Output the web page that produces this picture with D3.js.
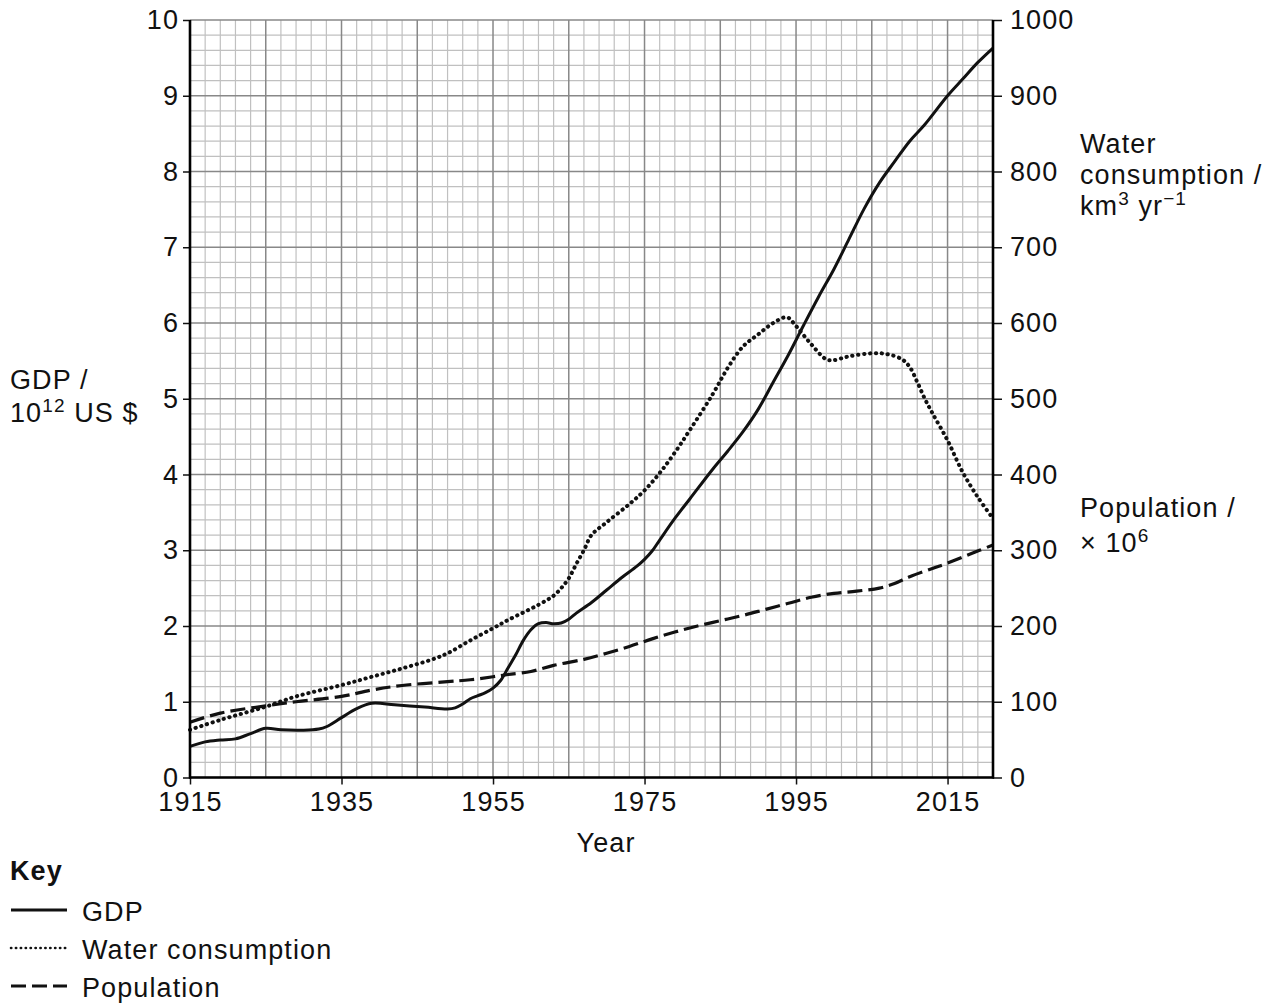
<!DOCTYPE html>
<html>
<head>
<meta charset="utf-8">
<script src="https://cdn.jsdelivr.net/npm/d3@7/dist/d3.min.js"></script>
<style>
  body { margin: 0; background: #fff; }
  svg { display: block; }
  text { font-family: "Liberation Sans", Arial, Helvetica, sans-serif; fill: #111; }
</style>
</head>
<body>
<svg id="chart" width="1273" height="1007"></svg>
<script>
// ---------- DATA ----------
const gdpYears = [1915,1917,1919,1921,1923,1925,1927,1930,1932,1933,1935,1937,1939,1942,1946,1949,1950,1951,1952,1953,1954,1955,1956,1957,1958,1959,1960,1961,1962,1963,1964,1965,1966,1968,1970,1972,1974,1975,1976,1977,1979,1981,1984,1986,1988,1990,1992,1994,1996,1998,2000,2002,2004,2006,2008,2010,2012,2015,2017,2019,2021];
const gdpValues = [0.41,0.47,0.495,0.51,0.58,0.65,0.63,0.625,0.64,0.67,0.79,0.91,0.98,0.96,0.93,0.905,0.92,0.97,1.04,1.08,1.12,1.18,1.28,1.45,1.62,1.81,1.95,2.03,2.045,2.03,2.04,2.09,2.17,2.31,2.475,2.64,2.79,2.88,2.99,3.135,3.42,3.68,4.07,4.31,4.565,4.86,5.22,5.58,5.97,6.35,6.71,7.11,7.51,7.85,8.13,8.40,8.62,9.0,9.22,9.44,9.63];

const waterYears = [1915,1919,1925,1929,1935,1939,1943,1947,1949,1952,1955,1957,1961,1963,1964,1965,1966,1967,1968,1970,1973,1975,1977,1979,1981,1984,1986,1988,1990,1992,1993.8,1995,1997,1999,2000,2002,2005,2007,2009,2010,2011,2012,2013,2015,2017,2019,2021];
const waterValues = [63,76,93.5,107,122,133,144,156,164,181,197,208,228,240,250,263,282,300,320,337,361,379,402,429,459,506,541,569,585,600,607.5,596,572,552,551,556,560,559,552,542,522,500,481,445,403,370,342];

const popYears = [1915,1919,1925,1929,1935,1939,1943,1949,1952,1955,1957,1960,1963,1967,1970,1973,1976,1979,1982,1985,1988,1991,1994,1997,2000,2003,2006,2008,2010,2013,2015,2018,2021];
const popValues = [73,85,94.5,100,107,115.5,121.5,126.5,129,133,136,140,148,156,164,173,183,192,200,207,214,222,230,238,243,246,250,256,265,276,283,295,307];

const xTickLabels = [1915,1935,1955,1975,1995,2015];
const leftTicks = [0,1,2,3,4,5,6,7,8,9,10];
const rightTicks = [0,100,200,300,400,500,600,700,800,900,1000];

// ---------- LAYOUT ----------
const svg = d3.select("#chart");
const X0 = 190, X1 = 993, Y0 = 777.5, Y1 = 20;
const FS = 27, LS = "1.1px";

const x = d3.scaleLinear().domain([1915, 2021]).range([X0, X1]);
const y = d3.scaleLinear().domain([0, 10]).range([Y0, Y1]);
const y2 = d3.scaleLinear().domain([0, 1000]).range([Y0, Y1]);

svg.append("rect").attr("width", 1273).attr("height", 1007).attr("fill", "#fff");

// ---------- GRID ----------
const grid = svg.append("g");
const minorX = d3.range(1917, 2021, 2).filter(d => (d - 1915) % 10 !== 0);
const majorX = d3.range(1915, 2021, 10);
const minorY = d3.range(0, 50).map(i => i / 5).filter(d => Math.abs(d - Math.round(d)) > 1e-6);
const majorY = d3.range(0, 11);

grid.selectAll(".mx").data(minorX).join("line")
  .attr("x1", d => x(d)).attr("x2", d => x(d)).attr("y1", Y0).attr("y2", Y1)
  .attr("stroke", "#c0c0c0").attr("stroke-width", 1.2);
grid.selectAll(".my").data(minorY).join("line")
  .attr("x1", X0).attr("x2", X1).attr("y1", d => y(d)).attr("y2", d => y(d))
  .attr("stroke", "#c0c0c0").attr("stroke-width", 1.2);
grid.selectAll(".Mx").data(majorX).join("line")
  .attr("x1", d => x(d)).attr("x2", d => x(d)).attr("y1", Y0).attr("y2", Y1)
  .attr("stroke", "#888").attr("stroke-width", 1.5);
grid.selectAll(".My").data(majorY).join("line")
  .attr("x1", X0).attr("x2", X1).attr("y1", d => y(d)).attr("y2", d => y(d))
  .attr("stroke", "#888").attr("stroke-width", 1.5);

// ---------- LINES ----------
const lineGen = (scale) => d3.line()
  .x(d => x(d[0])).y(d => scale(d[1]))
  .curve(d3.curveCatmullRom.alpha(0.5));

const gdpData = d3.zip(gdpYears, gdpValues);
const waterData = d3.zip(waterYears, waterValues);
const popData = d3.zip(popYears, popValues);

svg.append("path").datum(popData).attr("d", lineGen(y2))
  .attr("fill", "none").attr("stroke", "#111").attr("stroke-width", 3.2)
  .attr("stroke-dasharray", "15 6");
svg.append("path").datum(waterData).attr("d", lineGen(y2))
  .attr("fill", "none").attr("stroke", "#111").attr("stroke-width", 4)
  .attr("stroke-linecap", "round").attr("stroke-dasharray", "0.3 5.6");
svg.append("path").datum(gdpData).attr("d", lineGen(y))
  .attr("fill", "none").attr("stroke", "#111").attr("stroke-width", 3);

// ---------- AXES ----------
function styleAxis(g) {
  g.select(".domain").remove();
  g.selectAll(".tick line").attr("stroke", "#111").attr("stroke-width", 1.5);
  g.selectAll(".tick text").attr("font-size", FS).attr("letter-spacing", LS)
    .attr("fill", "#111").attr("font-family", '"Liberation Sans", Arial, sans-serif');
}
svg.append("g").attr("transform", `translate(${X0},0)`)
  .call(d3.axisLeft(y).tickValues(leftTicks).tickSize(7).tickPadding(4).tickFormat(d3.format("d")))
  .call(styleAxis);
svg.append("g").attr("transform", `translate(${X1},0)`)
  .call(d3.axisRight(y2).tickValues(rightTicks).tickSize(9).tickPadding(8).tickFormat(d3.format("d")))
  .call(styleAxis);
svg.append("g").attr("transform", `translate(0,${Y0})`)
  .call(d3.axisBottom(x).tickValues(xTickLabels).tickSize(7).tickPadding(7).tickFormat(d3.format("d")))
  .call(styleAxis);

// axis frame lines (left, right, bottom)
svg.append("line").attr("x1", X0).attr("x2", X0).attr("y1", Y1).attr("y2", Y0 + 1)
  .attr("stroke", "#000").attr("stroke-width", 2.6);
svg.append("line").attr("x1", X1).attr("x2", X1).attr("y1", Y1).attr("y2", Y0 + 1)
  .attr("stroke", "#000").attr("stroke-width", 2.6);
svg.append("line").attr("x1", X0 - 1).attr("x2", X1 + 1).attr("y1", Y0).attr("y2", Y0)
  .attr("stroke", "#000").attr("stroke-width", 2.6);

// ---------- LABELS ----------
function txt(xp, yp, parts, opts = {}) {
  const t = svg.append("text").attr("x", xp).attr("y", yp)
    .attr("font-size", FS).attr("letter-spacing", LS)
    .attr("text-anchor", opts.anchor || "start")
    .attr("font-weight", opts.bold ? "bold" : "normal");
  parts.forEach(p => {
    const s = t.append("tspan").text(p.t);
    if (p.sup) s.attr("font-size", 19).attr("dy", -10);
    if (p.down) s.attr("dy", 10);
  });
  return t;
}
txt(606, 852, [{t: "Year"}], {anchor: "middle"});
txt(10, 389, [{t: "GDP /"}]);
txt(10, 422, [{t: "10"}, {t: "12", sup: true}, {t: " US $", down: true}]);
txt(1080, 153, [{t: "Water"}]);
txt(1080, 184, [{t: "consumption /"}]);
txt(1080, 215, [{t: "km"}, {t: "3", sup: true}, {t: " yr", down: true}, {t: "\u22121", sup: true}]);
txt(1080, 517, [{t: "Population /"}]);
txt(1080, 552, [{t: "\u00d7 10"}, {t: "6", sup: true}]);

// ---------- KEY ----------
txt(10, 880, [{t: "Key"}], {bold: true});
const keyItems = ["GDP", "Water consumption", "Population"];
const keyY = [910, 948, 986];
const keyStyles = [
  {w: 3, dash: null, cap: "butt"},
  {w: 2.6, dash: "0.3 4.6", cap: "round"},
  {w: 3, dash: "15 6", cap: "butt"}
];
keyItems.forEach((k, i) => {
  const l = svg.append("line").attr("x1", 11).attr("x2", 67)
    .attr("y1", keyY[i]).attr("y2", keyY[i])
    .attr("stroke", "#111").attr("stroke-width", keyStyles[i].w)
    .attr("stroke-linecap", keyStyles[i].cap);
  if (keyStyles[i].dash) l.attr("stroke-dasharray", keyStyles[i].dash);
  txt(82, keyY[i] + 11, [{t: k}]);
});
</script>
</body>
</html>
